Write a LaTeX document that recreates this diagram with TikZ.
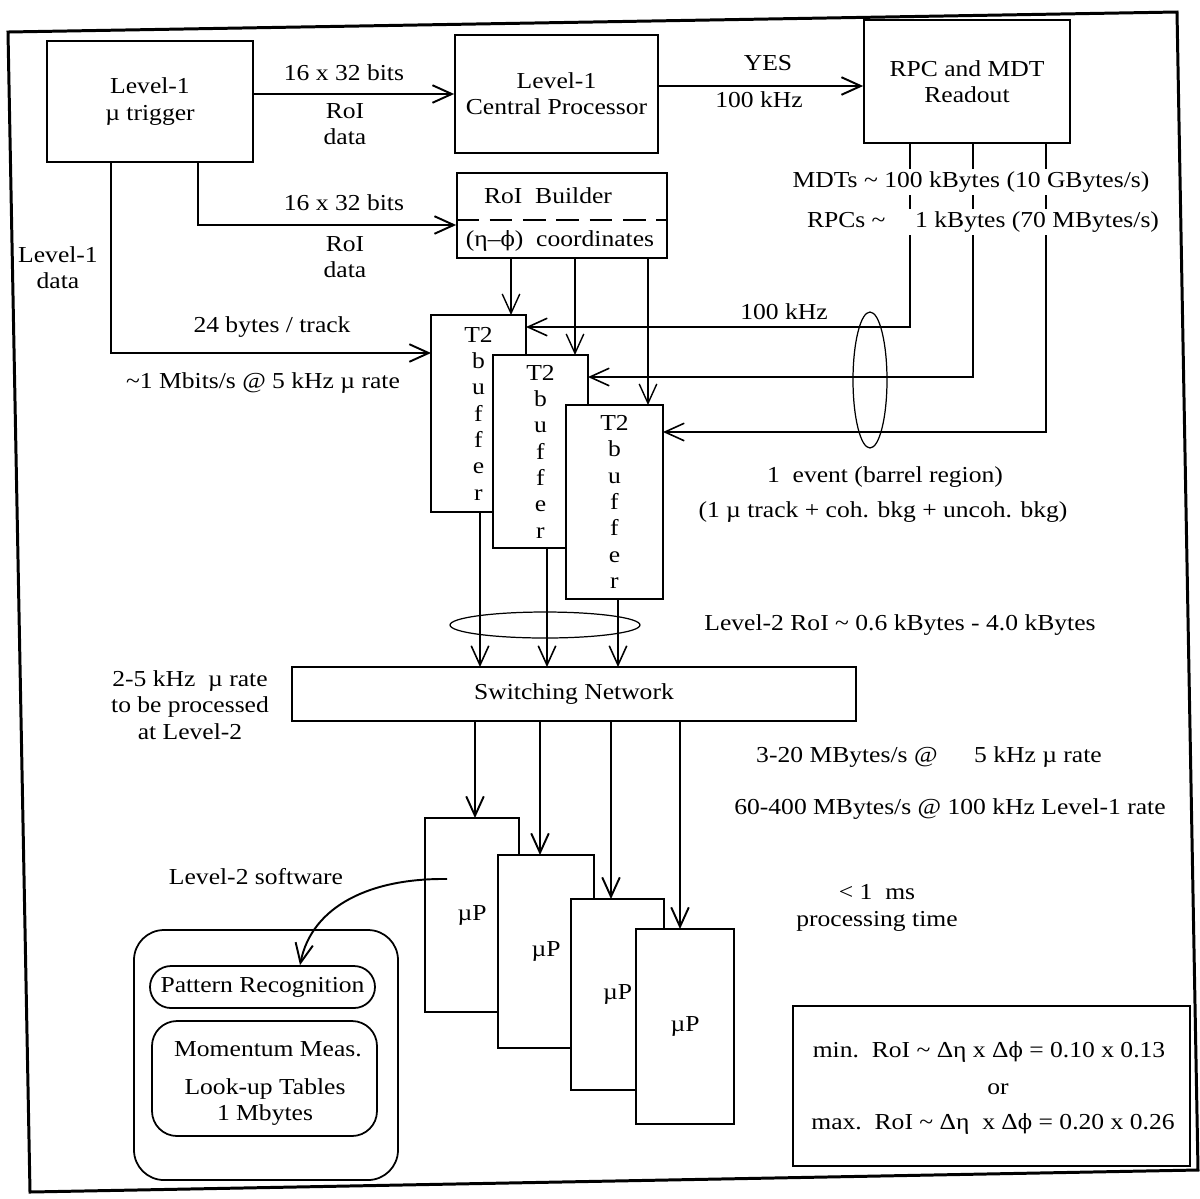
\documentclass[tikz,border=0pt]{standalone}
\usepackage{fontspec}
\setmainfont{Liberation Serif}[FakeStretch=1.12]
\newfontfamily\phifont{DejaVu Serif}[Scale=0.92]
\usetikzlibrary{arrows.meta,shapes.geometric}
\newcommand{\mytilde}{\textasciitilde}
\newcommand{\myphi}{{\phifont ϕ}}
\begin{document}
\begin{tikzpicture}[x=0.02cm,y=-0.02cm, font=\fontsize{13}{15}\selectfont,
  box/.style={draw, line width=1pt, fill=white, inner sep=0pt, align=center},
  wh/.style 2 args={minimum width=#1*0.02cm, minimum height=#2*0.02cm},
  arr/.style={-{Straight Barb[length=11pt,width=10pt]}, line width=1.1pt},
  thinarr/.style={-{Straight Barb[length=11pt,width=10pt]}, line width=0.8pt},
  thinline/.style={line width=0.7pt},
  lbl/.style={align=center, inner sep=1pt},
  wlbl/.style={align=center, inner sep=1.5pt, fill=white},
  frame/.style={line width=1.7pt, line join=miter}]
\useasboundingbox (0,0) rectangle (1200,1198);

% outer frame
\draw[frame] (8,32) -- (1177,12) -- (1198,1170) -- (30,1192) -- cycle;

% helper coordinates
\coordinate (cy) at (0,86);
\coordinate (c16) at (198,225);
\coordinate (cl1) at (111,353);
\coordinate (cd) at (0,220);
\coordinate (xa) at (511,0);
\coordinate (xb) at (575,0);
\coordinate (xc) at (648,0);
\coordinate (r1) at (910,327);
\coordinate (r2) at (973,377);
\coordinate (r3) at (1046,432);
\coordinate (s1) at (480,0);
\coordinate (s2) at (547,0);
\coordinate (s3) at (618,0);
\coordinate (p1) at (475,0);
\coordinate (p2) at (540,0);
\coordinate (p3) at (611,0);
\coordinate (p4) at (680,0);
\coordinate (cs) at (447,879);
\coordinate (ce) at (300,0);

% top boxes
\node[box, wh={206}{121}] (l1t) at (150,101.5) {Level-1\\µ trigger};
\node[box, wh={203}{118}] (l1cp) at (556.5,94) {Level-1\\Central Processor};
\node[box, wh={206}{123}] (rpc) at (967,81.5) {RPC and MDT\\Readout};
\node[box, wh={210}{85}] (roib) at (562,215.5) {};
\draw[dashed, dash pattern=on 13pt off 6pt, line width=1pt] (roib.west |- cd) -- (roib.east |- cd);
\node[lbl] (roibt) at (548,196) {RoI~~Builder};
\node[lbl] (roibc) at (560,241) {(η–\myphi)~~coordinates};

% top connectors
\draw[arr] (l1t.east |- l1cp.west) -- (l1cp.west);
\draw[arr] (l1cp.east |- cy) -- (rpc.west |- cy);
\draw[arr] (l1t.south -| c16) |- (roib.west |- c16);
\draw[arr] (l1t.south -| cl1) |- (cl1 -| 431,0) coordinate (t2aw);

% readout lines
\draw[arr, line width=0.9pt] (rpc.south -| r1) |- (r1 -| 526,0);
\draw[arr, line width=0.9pt] (rpc.south -| r2) |- (r2 -| 588,0);
\draw[arr, line width=0.9pt] (rpc.south -| r3) |- (r3 -| 663,0);

% RoI builder to buffers
\draw[thinarr] (roib.south -| xa) -- (xa |- 0,315);
\draw[thinarr] (roib.south -| xb) -- (xb |- 0,355);
\draw[thinarr] (roib.south -| xc) -- (xc |- 0,405);

% T2 buffers
\node[box, wh={95}{197}] (t2a) at (478.5,413.5) {T2\\b\\u\\f\\f\\e\\r};
\node[box, wh={95}{193}] (t2b) at (540.5,451.5) {T2\\b\\u\\f\\f\\e\\r};
\node[box, wh={97}{194}] (t2c) at (614.5,502) {T2\\b\\u\\f\\f\\e\\r};

% labels top
\node[lbl] (lab16a) at (344,73) {16 x 32 bits};
\node[lbl] (labroia) at (345,124) {RoI\\data};
\node[lbl] (lab16b) at (344,203) {16 x 32 bits};
\node[lbl] (labroib) at (345,257) {RoI\\data};
\node[lbl] (labl1d) at (58,268) {Level-1\\data};
\node[lbl] (lab24) at (272,327) {24 bytes / track};
\node[lbl] (lab1mb) at (263,383) {\mytilde1 Mbits/s @ 5 kHz µ rate};
\node[lbl] (labyes) at (768,63) {YES};
\node[lbl] (lab100a) at (759,100) {100 kHz};
\node[wlbl] (labmdt) at (971,182) {MDTs \mytilde{} 100 kBytes (10 GBytes/s)};
\node[wlbl] (labrpc) at (983,222) {RPCs \mytilde\hspace{1.3em}1 kBytes (70 MBytes/s)};
\node[lbl] (lab100b) at (784,312) {100 kHz};
\node[lbl] (labev) at (885,477) {1~~event (barrel region)};
\node[lbl] (labevb) at (883,512) {(1 µ track + coh. bkg + uncoh. bkg)};

% ellipses
\node[ellipse, draw, thinline, minimum width=0.68cm, minimum height=2.72cm, inner sep=0pt] (ell1) at (870,380) {};

% switching network
\draw[arr, line width=0.9pt] (t2a.south -| s1) -- (s1 |- 0,667);
\draw[arr, line width=0.9pt] (t2b.south -| s2) -- (s2 |- 0,667);
\draw[arr, line width=0.9pt] (t2c.south -| s3) -- (s3 |- 0,667);
\node[ellipse, draw, thinline, minimum width=3.8cm, minimum height=0.52cm, inner sep=0pt] (ell2) at (545,625) {};
\node[box, wh={564}{54}] (sw) at (574,694) {Switching Network};
\node[lbl] (labl2roi) at (900,625) {Level-2 RoI \mytilde{} 0.6 kBytes - 4.0 kBytes};
\node[lbl] (lab25) at (190,705) {2-5 kHz~~µ rate\\to be processed\\at Level-2};

% processors
\draw[arr] (sw.south -| p1) -- (p1 |- 0,818);
\draw[arr] (sw.south -| p2) -- (p2 |- 0,855);
\draw[arr] (sw.south -| p3) -- (p3 |- 0,899);
\draw[arr] (sw.south -| p4) -- (p4 |- 0,929);
\node[box, wh={94}{194}] (up1) at (472,915) {µP};
\node[box, wh={96}{193}] (up2) at (546,951.5) {µP};
\node[box, wh={93}{191}] (up3) at (617.5,994.5) {µP};
\node[box, wh={98}{195}] (up4) at (685,1026.5) {µP};

\node[lbl] (lab320) at (929,757) {3-20 MBytes/s @\hspace{1.6em}5 kHz µ rate};
\node[lbl] (lab60) at (950,809) {60-400 MBytes/s @ 100 kHz Level-1 rate};
\node[lbl] (labms) at (877,908) {< 1~~ms\\processing time};

% level-2 software
\node[draw, line width=1pt, rounded corners=0.6cm, wh={264}{250}] (l2box) at (266,1055) {};
\node[draw, line width=1pt, rounded corners=0.42cm, wh={225}{42}, inner sep=0pt] (pat) at (262.5,987) {Pattern Recognition};
\node[draw, line width=1pt, rounded corners=0.5cm, wh={225}{115}] (mom) at (264.5,1078.5) {};
\node[lbl] (momt) at (268,1049) {Momentum Meas.};
\node[lbl] (lut) at (265,1102) {Look-up Tables\\1 Mbytes};
\node[lbl] (labsw) at (256,877) {Level-2 software};
\draw[arr] (cs) .. controls (372,878) and (312,905) .. (pat.north -| ce);

% RoI size box
\node[box, wh={397}{160}] (roibox) at (991.5,1086) {};
\node[lbl] (rmin) at (989,1052) {min.~~RoI \mytilde{} Δη x Δ\myphi{} = 0.10 x 0.13};
\node[lbl] (ror) at (998,1089) {or};
\node[lbl] (rmax) at (993,1124) {max.~~RoI \mytilde{} Δη~~x Δ\myphi{} = 0.20 x 0.26};
\end{tikzpicture}
\end{document}
